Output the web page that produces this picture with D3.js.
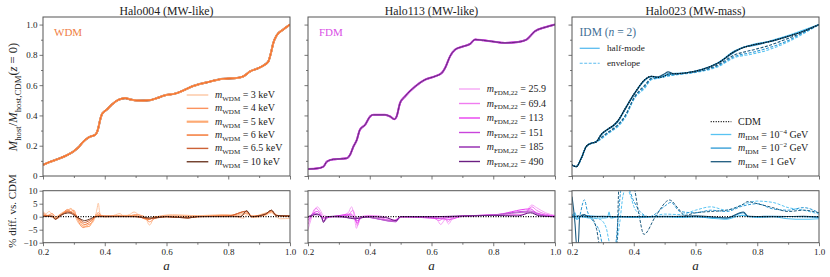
<!DOCTYPE html>
<html>
<head>
<meta charset="utf-8">
<script src="https://cdn.jsdelivr.net/npm/d3@7"></script>
<style>
body { margin: 0; background: #fff; }
svg { display: block; }
</style>
</head>
<body>
<div id="chart"></div>
<script>
// ---- data ----
const titles = ["Halo004 (MW-like)", "Halo113 (MW-like)", "Halo023 (MW-mass)"];
const xTicks = [0.2, 0.4, 0.6, 0.8, 1.0];
const xMinor = [0.3, 0.5, 0.7, 0.9];
const yTicks = [0, 0.2, 0.4, 0.6, 0.8, 1.0];
const yMinor = [0.1, 0.3, 0.5, 0.7, 0.9];
const resTicks = [-10, -5, 0, 5, 10];

// panel 1: WDM, host mass growth (all masses overlap CDM)
const wdmLabels = ["3 keV", "4 keV", "5 keV", "6 keV", "6.5 keV", "10 keV"];
const wdmColors = ["#fdc6a3", "#fb935f", "#fdaa74", "#f3702a", "#cc6236", "#6e3a26"];
const wdmMain = [[0.2,0.073],[0.225,0.095],[0.255,0.117],[0.28,0.14],[0.298,0.161],[0.315,0.19],[0.331,0.227],[0.347,0.254],[0.36,0.265],[0.368,0.271],[0.375,0.29],[0.379,0.316],[0.385,0.37],[0.39,0.404],[0.398,0.425],[0.406,0.437],[0.422,0.47],[0.444,0.503],[0.466,0.514],[0.485,0.505],[0.503,0.499],[0.525,0.498],[0.547,0.501],[0.57,0.515],[0.59,0.53],[0.633,0.547],[0.66,0.57],[0.682,0.591],[0.73,0.618],[0.784,0.642],[0.827,0.647],[0.849,0.658],[0.871,0.691],[0.895,0.71],[0.914,0.73],[0.93,0.757],[0.938,0.81],[0.946,0.879],[0.957,0.929],[0.978,0.967],[1.0,1.0]];
const wdmRes3 = [[0.2,2.0],[0.21,1.2],[0.22,2.0],[0.23,0.8],[0.24,-0.5],[0.25,0.5],[0.265,1.8],[0.28,2.5],[0.29,3.2],[0.3,1.5],[0.31,-1.5],[0.325,-3.5],[0.34,-4.0],[0.355,-3.0],[0.368,-0.5],[0.375,3.0],[0.379,5.2],[0.384,1.5],[0.39,0.5],[0.42,0.3],[0.45,1.2],[0.46,0.2],[0.48,0.8],[0.495,1.8],[0.51,0.8],[0.53,0],[0.545,-3.2],[0.56,-0.5],[0.59,0.5],[0.62,0.8],[0.66,0.6],[0.7,0.4],[0.74,0.6],[0.78,0.8],[0.82,0.3],[0.85,-0.6],[0.86,0.8],[0.88,-0.3],[0.92,0.5],[0.94,1.5],[0.955,0],[0.97,-0.8],[1.0,-0.6]];
const wdmRes4 = [[0.2,1.5],[0.215,0.5],[0.23,1.2],[0.24,0],[0.26,1],[0.28,2.8],[0.29,2.0],[0.3,2.5],[0.31,-0.5],[0.33,-4.2],[0.345,-3.2],[0.36,-2],[0.37,0.5],[0.38,1.5],[0.39,0.2],[0.44,0.3],[0.47,0],[0.5,0.8],[0.53,-0.3],[0.545,-2.0],[0.56,-0.8],[0.6,0.3],[0.65,0.2],[0.7,0],[0.75,0.4],[0.8,0.6],[0.84,0.2],[0.86,1.5],[0.88,0],[0.92,0.8],[0.94,2.0],[0.96,0.5],[1.0,0]];
const wdmRes5 = [[0.2,0.8],[0.22,0.3],[0.24,-0.3],[0.26,1.2],[0.28,2.0],[0.29,3.0],[0.3,1.8],[0.315,-1.0],[0.33,-3.5],[0.35,-3.8],[0.36,-1.5],[0.37,0.3],[0.38,0.8],[0.4,0],[0.45,0.5],[0.5,0.5],[0.54,-1.2],[0.56,0],[0.6,0.2],[0.7,0.3],[0.8,0.5],[0.86,1.2],[0.88,0.2],[0.94,1.8],[0.96,0.3],[1.0,0.2]];
const wdmRes6 = [[0.2,0.5],[0.23,0.2],[0.24,-0.8],[0.26,0.8],[0.28,2.2],[0.29,1.8],[0.3,1.2],[0.32,-1.5],[0.335,-3.0],[0.35,-2.2],[0.365,-0.5],[0.38,0.5],[0.4,0],[0.5,0.2],[0.545,-1.0],[0.56,-0.2],[0.6,0],[0.67,-0.4],[0.7,0],[0.8,0.3],[0.86,2.0],[0.875,0.2],[0.92,0.8],[0.94,2.3],[0.955,0.5],[1.0,0.3]];
const wdmRes65 = [[0.2,0.3],[0.23,0],[0.24,-1.0],[0.26,0.5],[0.28,1.8],[0.29,1.2],[0.3,1.0],[0.32,-1.0],[0.335,-2.2],[0.35,-1.5],[0.37,0],[0.4,0.2],[0.5,0],[0.545,-0.8],[0.6,0],[0.67,-0.5],[0.7,0],[0.8,0.2],[0.86,2.2],[0.875,0],[0.92,1.0],[0.94,2.5],[0.955,0.4],[1.0,0.2]];
const wdmRes10 = [[0.2,0],[0.23,0.2],[0.24,-1.0],[0.25,0],[0.27,1.2],[0.29,1.5],[0.3,0.5],[0.32,-0.8],[0.335,-1.5],[0.35,-1.0],[0.37,0],[0.4,0],[0.5,0],[0.55,-0.5],[0.6,0],[0.67,-0.5],[0.7,0],[0.84,0],[0.86,2.3],[0.875,0],[0.92,1.0],[0.94,2.5],[0.955,0.5],[1.0,0.3]];

// panel 2: FDM
const fdmLabels = ["25.9", "69.4", "113", "151", "185", "490"];
const fdmColors = ["#f5a6f5", "#f07cf0", "#e83ff0", "#c944dc", "#b266c6", "#6b1f82"];
const fdmMain = [[0.2,0.046],[0.233,0.051],[0.25,0.062],[0.261,0.095],[0.282,0.11],[0.304,0.113],[0.325,0.117],[0.336,0.139],[0.347,0.194],[0.358,0.238],[0.368,0.305],[0.385,0.338],[0.401,0.393],[0.412,0.404],[0.449,0.404],[0.466,0.393],[0.48,0.375],[0.487,0.393],[0.498,0.481],[0.514,0.525],[0.547,0.591],[0.579,0.636],[0.611,0.658],[0.633,0.68],[0.644,0.713],[0.66,0.79],[0.676,0.834],[0.703,0.856],[0.725,0.872],[0.741,0.901],[0.768,0.896],[0.795,0.889],[0.838,0.879],[0.881,0.885],[0.908,0.901],[0.935,0.956],[0.968,0.982],[1.0,1.0]];
const fdmRes259 = [[0.2,-5],[0.21,-1],[0.22,2],[0.23,3.8],[0.24,2.5],[0.25,0.5],[0.27,0],[0.3,0.3],[0.33,1.5],[0.341,3.8],[0.35,0],[0.357,-4.5],[0.365,-1],[0.38,0.3],[0.4,0.5],[0.45,0],[0.48,-1.2],[0.5,-0.3],[0.55,0],[0.6,-0.3],[0.62,-1.5],[0.63,-3],[0.645,-1],[0.655,-2.8],[0.67,-0.5],[0.7,0],[0.75,0.5],[0.8,0.8],[0.85,0.8],[0.9,1],[0.925,4.5],[0.94,3.5],[0.97,1.5],[1.0,0.5]];
const fdmRes694 = [[0.2,-3],[0.21,0],[0.225,3.2],[0.24,1.5],[0.25,-0.5],[0.27,0],[0.33,0.5],[0.345,2.5],[0.355,-1],[0.36,-3.5],[0.37,-0.5],[0.4,0.3],[0.48,-1.5],[0.5,0],[0.6,0],[0.625,-1.5],[0.64,-0.5],[0.655,-1.8],[0.67,0],[0.8,0.6],[0.9,0.8],[0.925,3.8],[0.94,2.5],[0.97,1],[1.0,0.3]];
const fdmRes113 = [[0.2,-1.5],[0.215,1],[0.23,2],[0.25,-0.5],[0.28,0],[0.34,1],[0.35,-0.5],[0.36,-2.5],[0.37,0],[0.48,-1.5],[0.5,0],[0.63,-0.8],[0.66,-1],[0.7,0.2],[0.8,0.6],[0.92,3],[0.94,1.5],[1.0,0.2]];
const fdmRes151 = [[0.2,-0.5],[0.22,1.2],[0.24,0.5],[0.25,-1.5],[0.27,0],[0.34,0.3],[0.36,-1.5],[0.38,0],[0.485,-2],[0.5,0],[0.63,-0.5],[0.7,0.3],[0.8,0.7],[0.92,2.2],[0.95,0.8],[1.0,0]];
const fdmRes185 = [[0.2,0],[0.22,0.8],[0.24,0.5],[0.25,-2],[0.265,0],[0.35,-0.5],[0.37,0],[0.485,-1.8],[0.5,0],[0.6,0],[0.7,0.2],[0.8,0.6],[0.92,1.8],[0.95,0.5],[1.0,0]];
const fdmRes490 = [[0.2,0],[0.215,0.5],[0.23,1],[0.245,-0.3],[0.25,-2.2],[0.26,0],[0.3,0.2],[0.35,-0.8],[0.4,0],[0.45,-0.3],[0.485,-1.5],[0.5,0],[0.6,0],[0.7,0.3],[0.8,0.5],[0.88,0.3],[0.92,1.5],[0.95,0.3],[1.0,0]];

// panel 3: IDM (half-mode solid, envelope dashed)
const idmLabels = ["\u22124", "\u22122", ""];
const idmColors = ["#58c3f2", "#2a98d4", "#1d5a7e"];
const idmCdm = [[0.2,0.073],[0.214,0.062],[0.23,0.117],[0.246,0.194],[0.262,0.216],[0.278,0.225],[0.295,0.275],[0.317,0.31],[0.335,0.335],[0.349,0.365],[0.371,0.44],[0.403,0.547],[0.436,0.636],[0.457,0.658],[0.478,0.65],[0.5,0.66],[0.511,0.672],[0.565,0.68],[0.619,0.702],[0.673,0.746],[0.727,0.823],[0.781,0.863],[0.835,0.885],[0.889,0.916],[0.943,0.951],[1.0,1.0]];
const idmHm4 = [[0.2,0.073],[0.214,0.062],[0.23,0.117],[0.246,0.194],[0.262,0.216],[0.278,0.225],[0.295,0.272],[0.317,0.307],[0.335,0.332],[0.349,0.36],[0.371,0.437],[0.403,0.545],[0.436,0.632],[0.457,0.656],[0.478,0.648],[0.5,0.66],[0.511,0.67],[0.565,0.68],[0.619,0.7],[0.673,0.748],[0.727,0.826],[0.781,0.866],[0.835,0.888],[0.889,0.92],[0.943,0.958],[1.0,1.0]];
const idmHm2 = [[0.2,0.073],[0.214,0.062],[0.23,0.117],[0.246,0.194],[0.262,0.216],[0.278,0.225],[0.295,0.275],[0.317,0.31],[0.335,0.335],[0.349,0.365],[0.371,0.44],[0.403,0.547],[0.436,0.636],[0.457,0.658],[0.478,0.65],[0.5,0.662],[0.511,0.674],[0.565,0.68],[0.619,0.702],[0.673,0.746],[0.727,0.82],[0.755,0.85],[0.781,0.86],[0.835,0.885],[0.889,0.916],[0.943,0.951],[1.0,1.0]];
const idmHm0 = [[0.2,0.073],[0.214,0.062],[0.23,0.117],[0.246,0.194],[0.262,0.216],[0.278,0.225],[0.295,0.275],[0.317,0.31],[0.335,0.335],[0.349,0.365],[0.371,0.44],[0.403,0.547],[0.436,0.636],[0.457,0.658],[0.478,0.655],[0.5,0.675],[0.511,0.687],[0.53,0.675],[0.565,0.68],[0.619,0.702],[0.673,0.746],[0.727,0.823],[0.755,0.85],[0.781,0.863],[0.835,0.885],[0.889,0.916],[0.943,0.951],[1.0,1.0]];
const idmEnv4 = [[0.2,0.073],[0.214,0.062],[0.23,0.117],[0.246,0.194],[0.262,0.216],[0.278,0.225],[0.295,0.245],[0.317,0.28],[0.335,0.305],[0.349,0.327],[0.371,0.382],[0.403,0.514],[0.436,0.581],[0.457,0.636],[0.478,0.645],[0.511,0.66],[0.565,0.675],[0.619,0.69],[0.673,0.722],[0.727,0.782],[0.781,0.804],[0.835,0.832],[0.889,0.876],[0.943,0.932],[1.0,1.0]];
const idmEnv2 = [[0.2,0.073],[0.214,0.062],[0.23,0.117],[0.246,0.194],[0.262,0.216],[0.278,0.225],[0.295,0.25],[0.317,0.285],[0.335,0.31],[0.349,0.335],[0.371,0.39],[0.403,0.52],[0.436,0.59],[0.457,0.64],[0.478,0.647],[0.511,0.662],[0.565,0.677],[0.619,0.694],[0.673,0.728],[0.727,0.79],[0.781,0.815],[0.835,0.845],[0.889,0.885],[0.943,0.94],[1.0,1.0]];
const idmEnv0 = [[0.2,0.073],[0.214,0.062],[0.23,0.117],[0.246,0.194],[0.262,0.216],[0.278,0.225],[0.295,0.255],[0.317,0.29],[0.335,0.315],[0.349,0.34],[0.371,0.395],[0.403,0.525],[0.436,0.6],[0.457,0.645],[0.478,0.65],[0.511,0.668],[0.565,0.678],[0.619,0.696],[0.673,0.735],[0.727,0.8],[0.781,0.83],[0.835,0.86],[0.889,0.9],[0.943,0.945],[1.0,1.0]];
const idmResHm4 = [[0.2,0],[0.21,1.5],[0.215,-1],[0.23,0],[0.26,-0.5],[0.3,-0.5],[0.315,-0.3],[0.32,1.8],[0.325,-0.5],[0.35,0],[0.4,-0.3],[0.5,0],[0.55,-0.3],[0.6,0],[0.65,-0.6],[0.7,-1],[0.75,0.5],[0.8,-0.3],[0.85,0],[0.9,-0.8],[0.95,-1],[1.0,-0.8]];
const idmResHm2 = [[0.2,0.5],[0.22,0],[0.25,0.3],[0.3,0],[0.4,0],[0.5,0.2],[0.6,0],[0.7,-0.5],[0.755,1.5],[0.77,0],[0.85,0.2],[0.95,0],[1.0,-0.3]];
const idmResHm0 = [[0.2,7.7],[0.205,3],[0.21,-3],[0.215,-11],[0.22,-11],[0.225,0],[0.24,0.8],[0.25,0],[0.3,0.2],[0.34,0],[0.36,0],[0.4,0],[0.5,0],[0.6,0.3],[0.65,0],[0.7,-0.5],[0.755,1.8],[0.77,0.2],[0.85,0],[0.95,0.2],[1.0,0]];
const idmResEnv4 = [[0.2,-0.3],[0.23,0],[0.26,-0.5],[0.29,-1],[0.31,-4],[0.325,-11],[0.34,-11],[0.355,-2],[0.365,8],[0.375,11],[0.39,8],[0.4,4],[0.42,1],[0.45,0],[0.5,1],[0.55,0.8],[0.6,2.5],[0.65,3.8],[0.7,2.5],[0.75,4.5],[0.8,6],[0.85,5.5],[0.9,3.5],[0.95,2.5],[1.0,1]];
const idmResEnv2 = [[0.2,1],[0.22,-1],[0.24,6.5],[0.25,2],[0.27,-2],[0.29,-6],[0.3,-11],[0.34,-11],[0.35,0],[0.36,11],[0.38,11],[0.4,6],[0.42,2],[0.45,0],[0.5,4],[0.52,5.5],[0.55,2],[0.6,1.5],[0.65,2.5],[0.7,2],[0.75,4],[0.8,5],[0.85,3],[0.9,2.5],[0.95,3.5],[1.0,1.5]];
const idmResEnv0 = [[0.2,0],[0.24,0.5],[0.26,0],[0.28,-5],[0.29,-11],[0.345,-11],[0.352,11],[0.37,11],[0.4,11],[0.415,2],[0.433,-6.8],[0.47,0],[0.516,6.4],[0.545,3],[0.565,0.5],[0.6,1.5],[0.65,2],[0.7,2.5],[0.75,4.5],[0.77,5.8],[0.8,5],[0.85,3.5],[0.9,2],[0.95,2.5],[1.0,1.5]];
const zeroRef = [[0.2,0],[1.0,0]];

// ---- layout ----
const W = 830, H = 277;
const cols = [[43, 290], [308, 555], [572, 819]];
const mainRange = [176, 17], resRange = [242.7, 190.7];
const spine = "#555";
const serif = "'Liberation Serif', 'Times New Roman', serif";

const svg = d3.select("#chart").append("svg").attr("width", W).attr("height", H);

// every text gets the serif face and dark fill
function txt(parent) {
    return parent.append("text").style("font-family", serif).style("fill", "#222");
}

// rich text with italics, sub and superscripts
function rich(sel, parts, size) {
    let shift = 0;
    parts.forEach(function (p) {
        const kind = p[1] || "r";
        let target = 0;
        if (kind === "sub") target = size * 0.28;
        if (kind === "sup") target = -size * 0.38;
        const t = sel.append("tspan").text(p[0]).attr("dy", target - shift);
        shift = target;
        if (kind === "i") t.style("font-style", "italic");
        if (kind === "sub" || kind === "sup") t.style("font-size", (size * 0.7) + "px");
    });
}

const panels = [
    {
        title: titles[0], tag: "WDM", tagColor: "#ef7d44",
        cdm: wdmMain,
        res: [wdmRes3, wdmRes4, wdmRes5, wdmRes6, wdmRes65, wdmRes10],
        colors: wdmColors,
        order: [5, 4, 0, 1, 2, 3], mainW: [1.4, 1.4, 1.8, 1.1, 1.8, 2.0]
    },
    {
        title: titles[1], tag: "FDM", tagColor: "#d94fe6",
        cdm: fdmMain,
        res: [fdmRes259, fdmRes694, fdmRes113, fdmRes151, fdmRes185, fdmRes490],
        colors: fdmColors,
        order: [0, 1, 2, 3, 4, 5], mainW: [1.4, 1.4, 2.0, 1.8, 1.6, 1.0]
    },
    {
        title: titles[2], tag: null,
        cdm: idmCdm
    }
];

panels.forEach(function (p, i) {
    const x = d3.scaleLinear().domain([0.2, 1.0]).range(cols[i]);
    const y = d3.scaleLinear().domain([0, 1.05]).range(mainRange);
    const yr = d3.scaleLinear().domain([-10, 10]).range(resRange);
    const line = d3.line().x(function (d) { return x(d[0]); }).y(function (d) { return y(d[1]); }).curve(d3.curveMonotoneX);
    const rline = d3.line().x(function (d) { return x(d[0]); }).y(function (d) { return yr(d[1]); }).curve(d3.curveMonotoneX);

    svg.append("clipPath").attr("id", "cm" + i).append("rect")
        .attr("x", cols[i][0]).attr("y", mainRange[1]).attr("width", cols[i][1] - cols[i][0]).attr("height", mainRange[0] - mainRange[1]);
    svg.append("clipPath").attr("id", "cr" + i).append("rect")
        .attr("x", cols[i][0]).attr("y", resRange[1]).attr("width", cols[i][1] - cols[i][0]).attr("height", resRange[0] - resRange[1]);

    const gm = svg.append("g").attr("clip-path", "url(#cm" + i + ")");
    const gr = svg.append("g").attr("clip-path", "url(#cr" + i + ")");

    if (i < 2) {
        p.order.forEach(function (k) {
            gm.append("path").attr("d", line(p.cdm)).attr("fill", "none")
                .attr("stroke", p.colors[k]).attr("stroke-width", p.mainW[k]);
        });
        p.res.forEach(function (s, k) {
            gr.append("path").attr("d", rline(s)).attr("fill", "none")
                .attr("stroke", p.colors[k]).attr("stroke-width", 1);
        });
    } else {
        const env = [idmEnv4, idmEnv2, idmEnv0], hm = [idmHm4, idmHm2, idmHm0];
        const renv = [idmResEnv4, idmResEnv2, idmResEnv0], rhm = [idmResHm4, idmResHm2, idmResHm0];
        env.forEach(function (s, k) {
            gm.append("path").attr("d", line(s)).attr("fill", "none")
                .attr("stroke", idmColors[k]).attr("stroke-width", 1.1).attr("stroke-dasharray", "3,1.5");
        });
        hm.forEach(function (s, k) {
            gm.append("path").attr("d", line(s)).attr("fill", "none")
                .attr("stroke", idmColors[k]).attr("stroke-width", 1.3);
        });
        gm.append("path").attr("d", line(p.cdm)).attr("fill", "none")
            .attr("stroke", "#000").attr("stroke-width", 1.1).attr("stroke-dasharray", "1,1.5");
        renv.forEach(function (s, k) {
            gr.append("path").attr("d", rline(s)).attr("fill", "none")
                .attr("stroke", idmColors[k]).attr("stroke-width", 1).attr("stroke-dasharray", "3,1.5");
        });
        rhm.forEach(function (s, k) {
            gr.append("path").attr("d", rline(s)).attr("fill", "none")
                .attr("stroke", idmColors[k]).attr("stroke-width", 1.1);
        });
    }
    // zero line
    gr.append("path").attr("d", rline(zeroRef)).attr("fill", "none")
        .attr("stroke", "#000").attr("stroke-width", 1.2).attr("stroke-dasharray", "1,1.5");

    // axes
    const tick = function (g) {
        g.select(".domain").remove();
        g.attr("font-family", serif).attr("font-size", 9);
        g.selectAll("line").attr("stroke", spine).attr("stroke-width", 0.8);
        g.selectAll("text").attr("fill", "#222").style("font-size", "9px")
            .style("font-family", serif);
    };
    svg.append("g").attr("transform", "translate(0," + mainRange[0] + ")")
        .call(d3.axisBottom(x).tickValues(xTicks).tickSize(3.5).tickFormat("")).call(tick);
    svg.append("g").attr("transform", "translate(0," + mainRange[0] + ")")
        .call(d3.axisBottom(x).tickValues(xMinor).tickSize(2).tickFormat("")).call(tick);
    svg.append("g").attr("transform", "translate(0," + resRange[0] + ")")
        .call(d3.axisBottom(x).tickValues(xTicks).tickSize(3.5).tickPadding(2).tickFormat(d3.format(".1f"))).call(tick);
    svg.append("g").attr("transform", "translate(0," + resRange[0] + ")")
        .call(d3.axisBottom(x).tickValues(xMinor).tickSize(2).tickFormat("")).call(tick);
    svg.append("g").attr("transform", "translate(" + cols[i][0] + ",0)")
        .call(d3.axisLeft(y).tickValues(yTicks).tickSize(3.5).tickPadding(2)
            .tickFormat(i === 0 ? function (d) { return d === 0 ? "0" : d3.format(".1f")(d); } : "")).call(tick);
    svg.append("g").attr("transform", "translate(" + cols[i][0] + ",0)")
        .call(d3.axisLeft(y).tickValues(yMinor).tickSize(2).tickFormat("")).call(tick);
    svg.append("g").attr("transform", "translate(" + cols[i][0] + ",0)")
        .call(d3.axisLeft(yr).tickValues(resTicks).tickSize(3.5).tickPadding(2)
            .tickFormat(i === 0 ? d3.format("d") : "")).call(tick);

    // frames
    [mainRange, resRange].forEach(function (r) {
        svg.append("rect").attr("x", cols[i][0]).attr("y", r[1])
            .attr("width", cols[i][1] - cols[i][0]).attr("height", r[0] - r[1])
            .attr("fill", "none").attr("stroke", spine).attr("stroke-width", 1);
    });

    // title and x label
    txt(svg).attr("x", (cols[i][0] + cols[i][1]) / 2).attr("y", 14.5)
        .attr("text-anchor", "middle").style("font-size", "11.8px").text(p.title);
    txt(svg).attr("x", (cols[i][0] + cols[i][1]) / 2).attr("y", 270)
        .attr("text-anchor", "middle").style("font-size", "13px").style("font-style", "italic").text("a");

    if (p.tag) {
        txt(svg).attr("x", cols[i][0] + 11).attr("y", 36)
            .style("font-size", "11px").style("fill", p.tagColor).text(p.tag);
    }
});

// ---- legends ----
function legendLine(x0, x1, yy, color, width, dash) {
    svg.append("line").attr("x1", x0).attr("x2", x1).attr("y1", yy).attr("y2", yy)
        .attr("stroke", color).attr("stroke-width", width).attr("stroke-dasharray", dash || null);
}
const fs = 10;
wdmLabels.forEach(function (lab, k) {
    const yy = 95 + k * 13.35;
    legendLine(186.7, 208.3, yy, wdmColors[k], k === 2 ? 2.2 : 1.4);
    const t = txt(svg).attr("x", 215).attr("y", yy + 3).style("font-size", fs + "px");
    rich(t, [["m", "i"], ["WDM", "sub"], [" = " + lab, "r"]], fs);
});
fdmLabels.forEach(function (lab, k) {
    const yy = 89 + k * 14.5;
    legendLine(459, 480, yy, fdmColors[k], k === 4 ? 2.0 : 1.4);
    const t = txt(svg).attr("x", 486.7).attr("y", yy + 3).style("font-size", fs + "px");
    rich(t, [["m", "i"], ["FDM,22", "sub"], [" = " + lab, "r"]], fs);
});
// IDM legends
const idmTag = txt(svg).attr("x", 579.5).attr("y", 36).style("font-size", "11.5px").style("fill", "#3f6f95");
rich(idmTag, [["IDM (", "r"], ["n", "i"], [" = 2)", "r"]], 11.5);
legendLine(579.7, 599.7, 48.3, "#5bbcf0", 1.3);
txt(svg).attr("x", 607).attr("y", 51.3).style("font-size", "9.2px").text("half-mode");
legendLine(579.7, 599.7, 63.3, "#5bbcf0", 1.1, "3,1.5");
txt(svg).attr("x", 607).attr("y", 66.3).style("font-size", "9.2px").text("envelope");

legendLine(710.7, 731.3, 121.7, "#000", 1.2, "1,1.5");
txt(svg).attr("x", 738).attr("y", 124.7).style("font-size", fs + "px").text("CDM");
idmColors.forEach(function (c, k) {
    const yy = 134.5 + k * 13.6;
    legendLine(710.7, 731.3, yy, c, 1.3);
    const t = txt(svg).attr("x", 738).attr("y", yy + 3).style("font-size", fs + "px");
    if (k < 2) {
        rich(t, [["m", "i"], ["IDM", "sub"], [" = 10", "r"], [idmLabels[k], "sup"], [" GeV", "r"]], fs);
    } else {
        rich(t, [["m", "i"], ["IDM", "sub"], [" = 1 GeV", "r"]], fs);
    }
});

// y labels
const yl = txt(svg).attr("transform", "translate(17,97) rotate(-90)")
    .attr("text-anchor", "middle").style("font-size", "12.5px");
rich(yl, [["M", "i"], ["host", "sub"], ["/", "r"], ["M", "i"], ["host,CDM", "sub"], ["(", "r"], ["z", "i"], [" = 0)", "r"]], 12.5);
txt(svg).attr("transform", "translate(16,211) rotate(-90)")
    .attr("text-anchor", "middle").style("font-size", "11px").text("% diff. vs. CDM");
</script>
</body>
</html>
